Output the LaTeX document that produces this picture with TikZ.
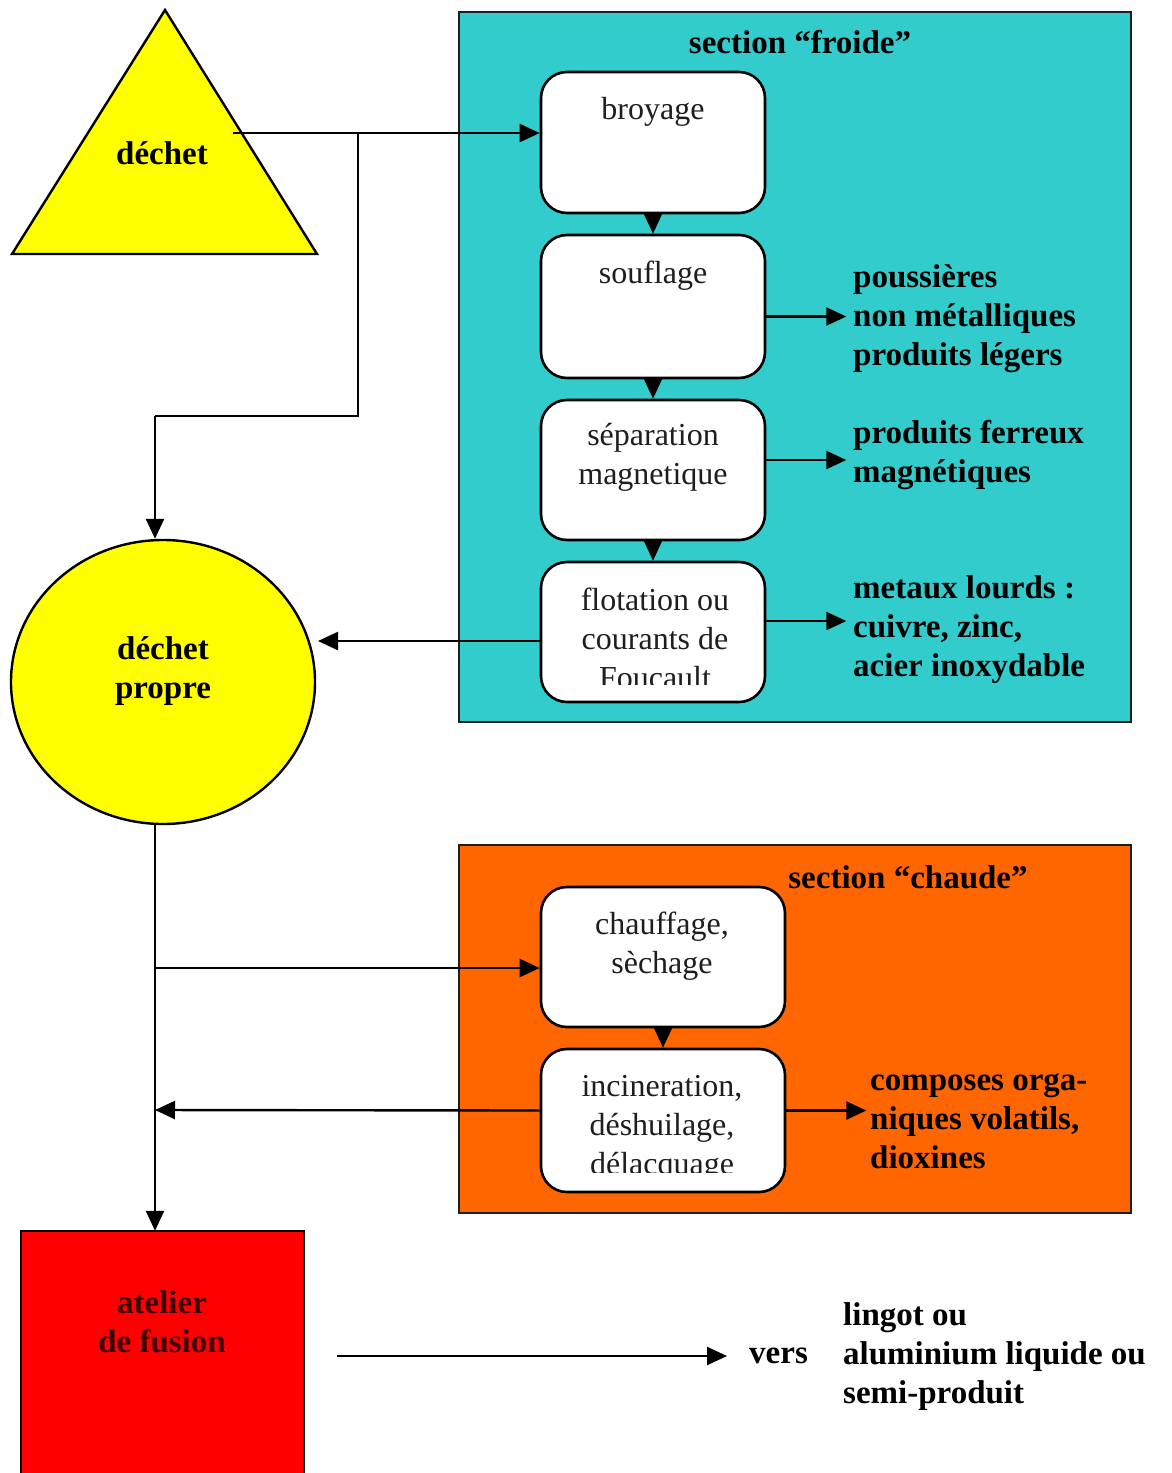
\documentclass[tikz,border=0pt]{standalone}
\usepackage{fontspec}
\setmainfont{Liberation Serif}
\usetikzlibrary{arrows.meta,shapes.geometric}
\definecolor{froid}{RGB}{51,204,204}
\definecolor{chaud}{RGB}{255,102,0}
\definecolor{jaune}{RGB}{255,255,0}
\definecolor{rouge}{RGB}{255,0,0}
\definecolor{encre}{RGB}{30,30,30}
\tikzset{
  conn/.style={line width=2.4pt, -{Triangle[length=20pt,width=18pt]}},
  wire/.style={line width=2.4pt},
  section/.style={draw=encre, line width=2.4pt},
  proc/.style={draw=black, line width=2.6pt, fill=white, rounded corners=26pt, inner sep=0pt},
  ptxt/.style={text=encre, align=center, inner sep=0pt, font=\fontsize{32}{39}\selectfont},
  btxt/.style={text=black, align=center, inner sep=0pt, font=\fontsize{33}{39}\selectfont\bfseries},
  outlbl/.style={text=black, align=left, anchor=west, inner sep=0pt, font=\fontsize{33}{39}\selectfont\bfseries},
}
\begin{document}
\begin{tikzpicture}[x=1pt,y=-1pt]
\useasboundingbox (0,0) rectangle (1171,1473);
\fill[white] (0,0) rectangle (1171,1473);

% cold section frame
\draw[section, fill=froid] (459,12) rectangle (1131,722);
\node[btxt] (tfroide) at (800,42) {section “froide”};
% hot section frame
\draw[section, fill=chaud] (459,845) rectangle (1131,1213);
\node[btxt] (tchaude) at (908,877) {section “chaude”};

% incoming waste
\draw[line width=2.4pt, fill=jaune] (165,10) -- (317,254) -- (12,254) -- cycle;
\node[btxt] (dechet) at (162,153) {déchet};
\coordinate (dout) at (233,133);

% clean waste
\node[draw, line width=2.4pt, fill=jaune, ellipse, minimum width=304pt, minimum height=284pt, inner sep=0pt] (propre) at (163,682) {};
\node[btxt] (tpropre) at (163,671) {déchet\\propre};

% melting shop
\draw[line width=2.4pt, fill=rouge] (21,1231) rectangle (304,1490);
\node[inner sep=0pt, minimum width=283pt, minimum height=242pt] (fusion) at (162.5,1352) {};
\node[btxt, text=black!75!red] (tfusion) at (162,1322) {atelier\\de fusion};

% cold process steps
\node[proc, minimum width=224pt, minimum height=141pt] (broy) at (653,142.5) {};
\node[proc, minimum width=224pt, minimum height=143pt] (souf) at (653,306.5) {};
\node[proc, minimum width=224pt, minimum height=140pt] (sepm) at (653,470) {};
\node[proc, minimum width=224pt, minimum height=140pt] (flot) at (653,632) {};
\node[ptxt] at (653,112) {broyage};
\node[ptxt] at (653,276) {souflage};
\node[ptxt] at (653,457) {séparation\\magnetique};
\begin{scope}
  \clip (541,562) rectangle (765,684);
  \node[ptxt] at (655,638) {flotation ou\\courants de\\Foucault};
\end{scope}

% hot process steps
\node[proc, minimum width=244pt, minimum height=140pt] (chauf) at (663,957) {};
\node[proc, minimum width=244pt, minimum height=143pt] (incin) at (663,1120.5) {};
\node[ptxt] at (662,946.5) {chauffage,\\sèchage};
\begin{scope}
  \clip (541,1049) rectangle (785,1172);
  \node[ptxt] at (662,1128) {incineration,\\déshuilage,\\délacquage};
\end{scope}

% by-products
\node[outlbl] (lsouf) at (853,318.5) {poussières\\non métalliques\\produits légers};
\node[outlbl] (lsep) at (853,455.5) {produits ferreux\\magnétiques};
\node[outlbl] (lflot) at (853,630) {metaux lourds :\\cuivre, zinc,\\acier inoxydable};
\node[outlbl] (lincin) at (870,1121) {composes orga-\\niques volatils,\\dioxines};

% output
\node[outlbl] (vers) at (749,1356) {vers};
\node[outlbl] (produit) at (843,1357) {lingot ou\\aluminium liquide ou\\semi-produit};
\coordinate (fout) at (337,1356);

% main flow
\coordinate (split) at (358,133);
\coordinate (bend1) at (358,416);
\coordinate (bend2) at (155,416);
\draw[conn] (dout) -- (broy.west |- dout);
\draw[wire] (split) -- (bend1) -- (bend2);
\draw[conn] (bend2) -- (bend2 |- propre.north);

\draw[conn] (broy.south) -- (souf.north);
\draw[conn] (souf.south) -- (sepm.north);
\draw[conn] (sepm.south) -- (flot.north);
\draw[conn] (chauf.south) -- (incin.north);

\draw[conn] ([yshift=-10pt]souf.east) -- ++(80,0);
\draw[conn] ([yshift=10pt]sepm.east) -- ++(80,0);
\draw[conn] ([yshift=11pt]flot.east) -- ++(80,0);
\draw[conn] ([yshift=10pt]incin.east) -- ++(80,0);

\draw[conn] ([yshift=-9pt]flot.west) -- (318,641);

% hot branch
\coordinate (p1) at (155,824);
\coordinate (p2) at (155,968);
\coordinate (p3) at (155,1110);
\draw[conn] (p1) -- (fusion.north -| p1);
\draw[conn] (p2) -- (chauf.west |- p2);
\draw[conn] ([yshift=10pt]incin.west) -- (p3);

% to the output
\draw[conn] (fout) -- (727,1356);
\end{tikzpicture}
\end{document}
